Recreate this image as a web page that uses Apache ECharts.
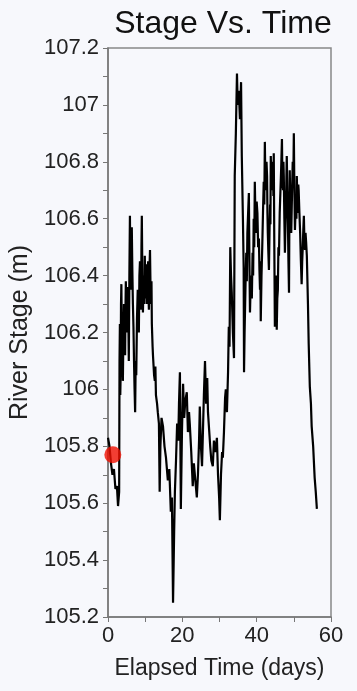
<!DOCTYPE html>
<html>
<head>
<meta charset="utf-8">
<script src="https://cdn.jsdelivr.net/npm/echarts@6/dist/echarts.min.js"></script>
<style>
html,body{margin:0;padding:0;background:#f7f8fc;}
#c{width:357px;height:691px;}
</style>
</head>
<body>
<div id="c"></div>
<script>
var titleText = "Stage Vs. Time";
var xName = "Elapsed Time (days)";
var yName = "River Stage (m)";
var xTicks = [0, 20, 40, 60];
var yTicks = [105.2, 105.4, 105.6, 105.8, 106, 106.2, 106.4, 106.6, 106.8, 107, 107.2];

var days = [
0.0,0.4,0.8,1.2,1.6,2.0,2.4,2.7,3.0,3.1,3.2,3.3,3.4,3.5,3.6,3.7,3.8,3.9,4.0,4.15,
4.3,4.45,4.6,4.7,4.8,4.95,5.1,5.25,5.4,5.5,5.6,5.75,5.9,6.0,6.1,6.25,6.4,6.55,6.7,6.85,
7.0,7.15,7.3,7.45,7.6,7.8,8.0,8.15,8.3,8.45,8.6,8.75,8.9,9.0,9.1,9.25,9.4,9.55,9.7,9.8,
9.9,10.05,10.2,10.35,10.5,10.65,10.8,10.9,11.0,11.15,11.3,11.45,11.6,11.7,11.8,12.0,12.1,12.4,12.6,12.75,
12.9,13.2,13.4,13.7,13.9,14.1,14.4,14.8,15.2,15.6,16.1,16.5,16.9,17.2,17.5,17.8,18.0,18.3,18.6,18.9,
19.1,19.35,19.6,19.9,20.2,20.5,20.8,21.2,21.5,21.8,22.0,22.4,22.8,23.1,23.5,23.9,24.2,24.5,24.7,25.0,
25.3,25.6,25.8,26.1,26.4,26.7,26.9,27.2,27.5,27.8,28.2,28.5,28.9,29.3,29.6,29.9,30.1,30.4,30.7,30.9,
31.2,31.5,31.7,32.0,32.3,32.5,32.7,32.9,33.1,33.3,33.6,33.9,34.1,34.4,34.7,34.9,35.2,35.5,35.8,36.0,
36.3,36.5,36.6,36.75,36.9,37.05,37.2,37.35,37.5,37.7,37.9,38.05,38.2,38.35,38.5,38.7,38.9,39.05,39.2,39.35,
39.5,39.65,39.8,40.0,40.2,40.4,40.6,40.75,40.9,41.0,41.1,41.3,41.5,41.7,41.9,42.05,42.2,42.35,42.5,42.65,
42.8,42.9,43.0,43.15,43.3,43.45,43.6,43.7,43.8,43.95,44.1,44.25,44.4,44.5,44.6,44.75,44.9,45.05,45.2,45.3,
45.4,45.55,45.7,45.85,46.0,46.2,46.4,46.6,46.8,46.95,47.1,47.2,47.3,47.45,47.6,47.75,47.9,48.0,48.1,48.25,
48.4,48.55,48.7,48.8,48.9,49.1,49.3,49.5,49.7,49.85,50.0,50.15,50.3,50.45,50.6,50.7,50.8,50.95,51.1,51.2,
51.3,51.5,51.7,51.9,52.1,52.25,52.4,52.55,52.7,52.85,53.0,53.15,53.3,53.5,53.8,54.0,54.3,54.6,54.8,55.2,
55.6,55.9,56.2
];
var stage = [
105.83,105.80,105.74,105.70,105.72,105.65,105.66,105.59,105.64,106.10,106.23,105.98,106.05,106.30,106.37,106.20,106.15,106.25,106.03,106.20,
106.30,106.18,106.12,106.28,106.38,106.25,106.20,106.36,106.33,106.22,106.10,106.40,106.61,106.45,106.35,106.52,106.57,106.42,106.30,106.22,
106.10,106.00,105.92,106.10,106.05,106.25,106.35,106.22,106.20,106.40,106.45,106.33,106.28,106.50,106.61,106.40,106.27,106.38,106.40,106.30,
106.47,106.35,106.32,106.44,106.30,106.40,106.45,106.33,106.28,106.42,106.49,106.35,106.30,106.38,106.23,106.15,106.12,106.05,106.03,106.08,
105.98,105.95,105.92,105.88,105.64,105.80,105.90,105.87,105.80,105.76,105.68,105.72,105.57,105.62,105.25,105.50,105.64,105.75,105.88,105.82,
105.95,106.06,105.58,105.85,106.02,105.90,105.96,105.99,105.85,105.92,105.88,105.78,105.66,105.74,105.68,105.62,105.70,105.82,105.94,105.80,
105.73,105.88,105.98,106.10,105.95,106.04,105.92,105.86,105.80,105.75,105.73,105.82,105.78,105.83,105.70,105.62,105.54,105.70,105.78,105.76,
105.85,105.97,106.00,105.92,106.06,106.22,106.15,106.50,106.40,106.34,106.20,106.11,106.75,106.90,107.11,107.00,107.05,106.95,107.08,106.82,
106.60,106.43,106.06,106.20,106.30,106.40,106.48,106.38,106.55,106.62,106.69,106.45,106.27,106.35,106.40,106.32,106.48,106.40,106.60,106.50,
106.73,106.62,106.55,106.66,106.62,106.50,106.53,106.42,106.35,106.45,106.24,106.40,106.50,106.62,106.73,106.65,106.87,106.72,106.70,106.80,
106.75,106.62,106.55,106.48,106.42,106.55,106.65,106.58,106.82,106.72,106.70,106.80,106.78,106.68,106.83,106.50,106.22,106.36,106.40,106.30,
106.21,106.32,106.35,106.50,106.47,106.62,106.70,106.78,106.88,106.72,106.70,106.80,106.75,106.60,106.48,106.58,106.65,106.74,106.82,106.70,
106.60,106.45,106.34,106.60,106.77,106.62,106.55,106.68,106.80,106.72,106.90,106.70,106.56,106.62,106.68,106.60,106.75,106.66,106.62,106.72,
106.70,106.62,106.55,106.45,106.37,106.45,106.50,106.56,106.61,106.52,106.49,106.55,106.52,106.47,106.30,106.16,106.01,105.95,105.87,105.80,
105.69,105.64,105.58
];
var markerDay = [1.3];
var markerStage = [105.77];

var lineData = days.map(function(d, i){ return [d, stage[i]]; });
var dotData = markerDay.map(function(d, i){ return [d, markerStage[i]]; });

var font = "'Liberation Sans', Arial, sans-serif";
var chart = echarts.init(document.getElementById('c'));
chart.setOption({
  backgroundColor: '#f7f8fc',
  animation: false,
  title: {
    text: titleText, left: 218, top: 3, textAlign: 'center',
    textStyle: {fontFamily: font, fontSize: 32, fontWeight: 'normal', color: '#111'}
  },
  grid: {left: 108, right: 26, top: 48, bottom: 74, show: true, borderColor: '#888', borderWidth: 1.5, backgroundColor: 'transparent'},
  xAxis: {
    type: 'value', min: 0, max: 60, interval: 20,
    name: xName, nameLocation: 'middle', nameGap: 40,
    nameTextStyle: {fontFamily: font, fontSize: 23, color: '#222'},
    axisLine: {show: true, lineStyle: {color: '#777', width: 1.5}},
    axisTick: {show: true, length: 5, lineStyle: {color: '#777'}},
    minorTick: {show: true, splitNumber: 2, length: 5, lineStyle: {color: '#777'}},
    splitLine: {show: false},
    axisLabel: {fontFamily: font, fontSize: 22, color: '#222', margin: 8,
      formatter: function(v){ return xTicks.indexOf(v) >= 0 ? String(v) : ''; }}
  },
  yAxis: {
    type: 'value', min: 105.2, max: 107.2, interval: 0.2,
    name: yName, nameLocation: 'middle', nameGap: 71,
    nameTextStyle: {fontFamily: font, fontSize: 25, color: '#222'},
    axisLine: {show: true, lineStyle: {color: '#777', width: 1.5}},
    axisTick: {show: true, length: 5, lineStyle: {color: '#777'}},
    minorTick: {show: true, splitNumber: 2, length: 5, lineStyle: {color: '#777'}},
    splitLine: {show: false},
    axisLabel: {fontFamily: font, fontSize: 22, color: '#222', margin: 9,
      formatter: function(v){
        var r = Math.round(v * 10) / 10;
        return (r % 1 === 0) ? String(r) : r.toFixed(1);
      }}
  },
  series: [
    {type: 'line', data: lineData, showSymbol: false, symbol: 'none',
     lineStyle: {color: '#000', width: 2.2}, z: 2},
    {type: 'scatter', data: dotData, symbolSize: 17,
     itemStyle: {color: '#f00f00'}, z: 3}
  ]
});
</script>
</body>
</html>
